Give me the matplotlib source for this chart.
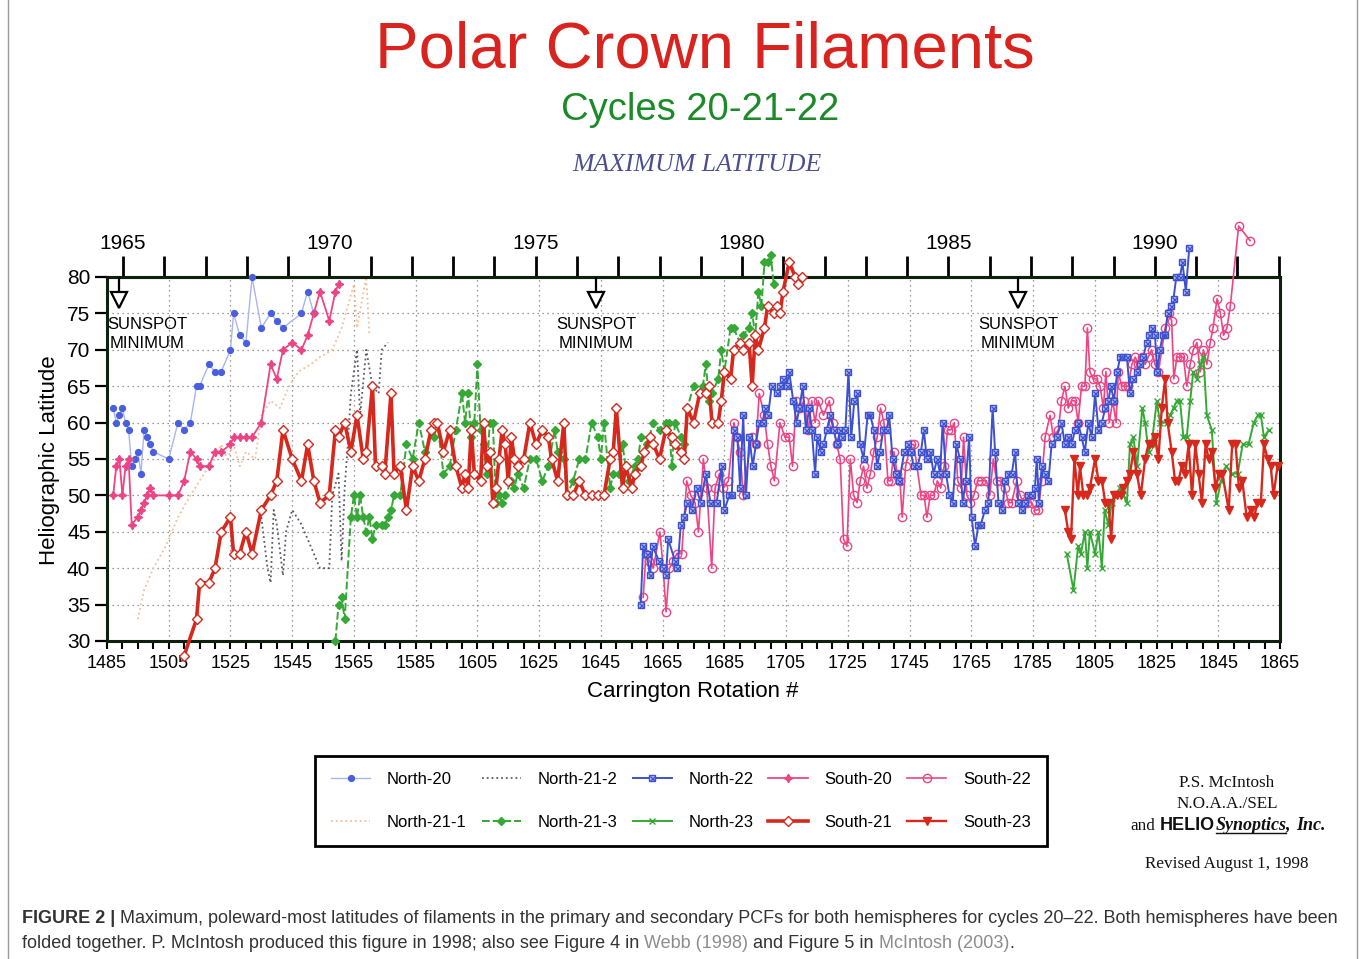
import matplotlib
matplotlib.use('Agg')
import matplotlib.pyplot as plt
from matplotlib.lines import Line2D
from matplotlib.ticker import MultipleLocator, FixedLocator

plt.rcParams['font.family'] = ['Liberation Sans', 'DejaVu Sans']

# ---------------- data (Carrington rotation, latitude) ----------------
n20_cr = [1487, 1488, 1489, 1490, 1491, 1492, 1493, 1494, 1495, 1496, 1497, 1498, 1499, 1500,
          1505, 1508, 1510, 1512, 1514, 1515, 1518, 1520, 1522, 1525, 1526, 1528, 1530, 1532,
          1535, 1538, 1540, 1542, 1548, 1550, 1552]
n20_lat = [62, 60, 61, 62, 60, 59, 54, 55, 56, 53, 59, 58, 57, 56,
           55, 60, 59, 60, 65, 65, 68, 67, 67, 70, 75, 72, 71, 80,
           73, 75, 74, 73, 75, 78, 75]

s20_cr = [1487, 1488, 1489, 1490, 1491, 1492, 1493, 1495, 1496, 1497, 1498, 1499, 1500,
          1505, 1508, 1510, 1512, 1514, 1515, 1518, 1520, 1522, 1525, 1526, 1528, 1530, 1532, 1535,
          1538, 1540, 1542, 1545, 1548, 1550, 1552, 1554, 1557, 1559, 1560]
s20_lat = [50, 54, 55, 50, 54, 55, 46, 47, 48, 49, 50, 51, 50,
           50, 50, 52, 56, 55, 54, 54, 56, 56, 57, 58, 58, 58, 58, 60,
           68, 66, 70, 71, 70, 72, 75, 78, 74, 78, 79]

n211_cr = [1495, 1497, 1500, 1504, 1508, 1512, 1515, 1518, 1520, 1522, 1524, 1526, 1528, 1530,
           1533, 1535, 1538, 1541, 1544, 1547, 1551, 1554, 1558, 1561, 1563, 1565, 1566, 1569, 1570]
n211_lat = [33, 37, 40, 43, 47, 50, 52, 54, 55, 57, 55, 57, 54, 56,
            55, 61, 63, 62, 65, 67, 68, 69, 70, 73, 76, 79, 73, 80, 72]

n212_cr = [1535, 1537, 1538, 1539, 1540, 1542, 1543, 1545, 1548, 1551, 1554, 1557, 1558,
           1560, 1561, 1562, 1563, 1564, 1566, 1567, 1569, 1571, 1573, 1574, 1576]
n212_lat = [47, 40, 38, 48, 46, 39, 45, 48, 46, 43, 40, 40, 50,
            53, 41, 51, 57, 64, 70, 61, 70, 65, 64, 70, 71]

n213_cr = [1559, 1560, 1561, 1562, 1564, 1565, 1566, 1567, 1568, 1569,
           1570, 1571, 1572, 1574, 1575, 1576, 1577, 1578, 1580, 1582,
           1584, 1586, 1588, 1590, 1591, 1592, 1594, 1596, 1598, 1600,
           1601, 1602, 1603, 1604, 1605, 1606, 1607, 1608, 1609, 1610,
           1611, 1612, 1613, 1614, 1616, 1617, 1618, 1620, 1622, 1624,
           1626, 1628, 1630, 1631, 1633, 1634, 1636, 1638, 1640, 1642,
           1644, 1645, 1646, 1648, 1649, 1651, 1652, 1653, 1654, 1656,
           1657, 1658, 1660, 1662, 1664, 1666, 1667, 1668, 1669, 1671,
           1672, 1673, 1675, 1677, 1678, 1679, 1680, 1681, 1683, 1684,
           1685, 1687, 1688, 1690, 1691, 1693, 1694, 1695, 1696, 1697,
           1698, 1699, 1700, 1701]
n213_lat = [30, 35, 36, 33, 47, 50, 47, 50, 47, 45,
            47, 44, 46, 46, 46, 47, 48, 50, 50, 57,
            55, 60, 56, 59, 58, 60, 53, 54, 59, 64,
            60, 64, 58, 60, 68, 59, 57, 53, 60, 60,
            49, 50, 49, 50, 52, 51, 53, 51, 55, 55,
            52, 54, 59, 56, 55, 50, 52, 55, 55, 60,
            58, 55, 60, 51, 53, 53, 57, 54, 52, 54,
            55, 58, 57, 60, 59, 60, 60, 54, 60, 58,
            57, 62, 65, 64, 65, 68, 63, 64, 66, 70,
            67, 73, 73, 71, 72, 73, 75, 72, 78, 76,
            82, 82, 83, 79]

s21_cr = [1510, 1514, 1515, 1518, 1520, 1522, 1525, 1526, 1528, 1530,
          1532, 1535, 1538, 1540, 1542, 1545, 1548, 1550, 1552, 1554,
          1557, 1559, 1560, 1562, 1564, 1566, 1568, 1569, 1571, 1572,
          1574, 1575, 1577, 1578, 1580, 1582, 1584, 1586, 1588, 1590,
          1591, 1592, 1594, 1596, 1598, 1600, 1601, 1602, 1603, 1604,
          1606, 1607, 1608, 1609, 1610, 1611, 1612, 1613, 1614, 1615,
          1616, 1617, 1618, 1620, 1622, 1624, 1626, 1628, 1629, 1631,
          1633, 1634, 1636, 1638, 1640, 1642, 1644, 1646, 1648, 1649,
          1650, 1652, 1653, 1655, 1656, 1658, 1659, 1661, 1662, 1664,
          1666, 1668, 1669, 1671, 1672, 1673, 1675, 1677, 1679, 1680,
          1681, 1683, 1684, 1685, 1687, 1688, 1690, 1691, 1693, 1694,
          1695, 1696, 1698, 1699, 1701, 1702, 1703, 1704, 1706, 1708,
          1709, 1710]
s21_lat = [28, 33, 38, 38, 40, 45, 47, 42, 42, 45,
           42, 48, 50, 52, 59, 55, 52, 57, 52, 49,
           50, 59, 58, 60, 56, 61, 55, 56, 65, 54,
           54, 53, 64, 53, 54, 48, 54, 52, 55, 59,
           60, 60, 56, 59, 54, 51, 53, 51, 59, 53,
           52, 60, 54, 56, 49, 51, 55, 59, 57, 52,
           58, 55, 54, 55, 60, 57, 59, 58, 55, 52,
           60, 50, 50, 52, 50, 50, 50, 50, 55, 56,
           62, 51, 54, 51, 53, 54, 56, 58, 57, 55,
           59, 58, 57, 56, 55, 62, 60, 64, 64, 65,
           60, 60, 63, 67, 66, 70, 71, 70, 71, 65,
           72, 70, 73, 76, 75, 76, 75, 78, 82, 80,
           79, 80]

n22_cr = [1657.9, 1658.7, 1659.8, 1660.9, 1661.8, 1663.8, 1665.2, 1666.1, 1666.8, 1669.0,
          1669.8, 1670.9, 1671.9, 1673.0, 1674.4, 1676.0, 1677.3, 1679.0, 1680.5, 1682.5,
          1684.1, 1685.0, 1686.6, 1687.4, 1688.1, 1689.2, 1690.1, 1691.1, 1692.0, 1693.1,
          1694.2, 1695.2, 1696.3, 1697.4, 1698.2, 1699.2, 1700.3, 1701.9, 1703.0, 1704.1,
          1705.2, 1706.0, 1707.3, 1708.4, 1709.3, 1710.4, 1711.4, 1712.5, 1713.3, 1714.4,
          1715.1, 1716.2, 1717.1, 1718.2, 1719.3, 1720.4, 1721.5, 1722.5, 1723.1, 1724.2,
          1725.2, 1726.1, 1727.1, 1728.1, 1729.0, 1730.1, 1731.4, 1732.3, 1733.4, 1734.5,
          1735.4, 1736.5, 1737.6, 1738.4, 1739.5, 1740.6, 1741.7, 1743.3, 1744.4, 1745.4,
          1746.3, 1747.6, 1748.7, 1749.6, 1750.6, 1751.7, 1752.8, 1753.9, 1754.9, 1755.7,
          1756.8, 1757.9, 1759.0, 1760.2, 1761.3, 1762.2, 1763.2, 1764.3, 1765.1, 1766.2,
          1767.3, 1768.1, 1769.4, 1770.5, 1771.9, 1772.7, 1773.8, 1775.1, 1775.9, 1777.0,
          1778.1, 1779.2, 1780.2, 1781.3, 1782.4, 1783.5, 1784.5, 1785.6, 1786.2, 1786.9,
          1787.8, 1788.9, 1790.0, 1791.0, 1792.6, 1794.2, 1795.3, 1796.4, 1797.5, 1798.6,
          1799.6, 1800.7, 1801.8, 1802.9, 1804.0, 1805.1, 1806.2, 1807.3, 1808.4, 1809.4,
          1810.2, 1811.2, 1812.3, 1813.2, 1814.3, 1815.4, 1816.4, 1817.5, 1818.6, 1819.6,
          1820.7, 1821.8, 1822.6, 1823.4, 1824.5, 1825.2, 1826.1, 1827.0, 1827.8, 1828.6,
          1829.6, 1830.5, 1831.4, 1832.6, 1833.4, 1834.5, 1835.6]
n22_lat = [35, 43, 42, 39, 43, 41, 40, 39, 44, 41,
           40, 46, 47, 49, 48, 51, 49, 53, 49, 49,
           54, 48, 50, 50, 59, 58, 51, 61, 50, 58,
           54, 57, 60, 60, 62, 61, 65, 64, 65, 66,
           65, 67, 63, 60, 62, 65, 59, 62, 59, 53,
           58, 56, 57, 59, 61, 59, 57, 59, 58, 59,
           67, 58, 63, 64, 57, 55, 61, 61, 59, 54,
           56, 59, 59, 61, 55, 53, 52, 56, 57, 56,
           54, 54, 56, 59, 55, 56, 53, 55, 53, 60,
           53, 50, 49, 57, 55, 49, 52, 58, 47, 43,
           46, 46, 48, 49, 62, 56, 49, 48, 52, 53,
           53, 56, 49, 48, 49, 50, 50, 51, 55, 49,
           54, 53, 52, 57, 58, 60, 57, 58, 57, 59,
           60, 58, 56, 60, 58, 64, 59, 60, 62, 63,
           65, 63, 67, 69, 69, 69, 64, 66, 67, 68,
           69, 71, 72, 73, 72, 67, 70, 72, 72, 75,
           76, 77, 80, 80, 82, 78, 84]

s22_cr = [1658.7, 1659.6, 1660.7, 1662.0, 1664.1, 1665.2, 1666.1, 1667.2, 1668.5, 1669.6,
          1671.2, 1672.8, 1674.1, 1675.5, 1676.6, 1678.2, 1679.3, 1680.9, 1682.0, 1683.4,
          1684.7, 1686.3, 1688.1, 1689.0, 1690.1, 1691.1, 1693.8, 1695.2, 1696.3, 1697.9,
          1699.0, 1700.1, 1701.2, 1703.0, 1704.6, 1706.0, 1707.1, 1708.2, 1709.5, 1710.8,
          1712.2, 1713.3, 1714.4, 1715.4, 1717.1, 1719.0, 1720.1, 1721.4, 1722.5, 1723.6,
          1724.7, 1725.8, 1726.9, 1728.0, 1729.0, 1730.1, 1731.2, 1732.3, 1733.4, 1734.5,
          1735.6, 1736.7, 1738.0, 1738.9, 1739.9, 1741.0, 1741.9, 1742.6, 1743.7, 1745.4,
          1746.4, 1748.7, 1749.7, 1750.6, 1751.7, 1752.8, 1754.0, 1755.1, 1756.2, 1757.3,
          1758.4, 1759.5, 1760.6, 1761.7, 1762.5, 1763.6, 1764.7, 1765.8, 1767.1, 1768.1,
          1769.9, 1771.0, 1772.1, 1773.2, 1774.3, 1775.9, 1777.0, 1778.1, 1779.7, 1780.8,
          1781.9, 1783.0, 1784.6, 1785.6, 1786.7, 1787.8, 1788.9, 1790.5, 1791.6, 1793.2,
          1794.2, 1795.3, 1796.4, 1797.5, 1798.6, 1799.6, 1800.7, 1801.8, 1802.6, 1803.4,
          1804.5, 1805.6, 1806.7, 1807.8, 1808.6, 1809.7, 1810.8, 1811.9, 1812.6, 1813.7,
          1814.8, 1815.9, 1817.0, 1818.1, 1819.1, 1820.2, 1821.3, 1822.3, 1823.4, 1824.5,
          1825.6, 1827.8, 1828.9, 1829.9, 1830.6, 1831.6, 1832.6, 1833.7, 1834.8, 1835.9,
          1836.9, 1838.1, 1839.2, 1840.2, 1841.3, 1842.4, 1843.3, 1844.6, 1845.7, 1846.7,
          1847.8, 1848.9, 1851.6, 1855.3]
s22_lat = [36, 42, 41, 40, 45, 40, 34, 40, 41, 42,
           42, 52, 50, 49, 45, 55, 51, 40, 51, 53,
           51, 52, 60, 58, 56, 50, 58, 57, 64, 61,
           57, 54, 52, 60, 58, 58, 54, 63, 62, 63,
           59, 63, 60, 63, 61, 63, 60, 57, 55, 44,
           43, 55, 50, 49, 52, 54, 51, 53, 56, 58,
           62, 60, 52, 52, 56, 53, 52, 47, 54, 57,
           57, 50, 50, 47, 50, 50, 52, 51, 54, 59,
           59, 60, 52, 51, 58, 50, 49, 50, 52, 52,
           52, 50, 55, 52, 52, 51, 49, 49, 52, 50,
           49, 49, 49, 48, 48, 52, 58, 61, 58, 59,
           63, 65, 62, 63, 63, 60, 65, 65, 73, 67,
           66, 66, 65, 62, 67, 60, 63, 60, 67, 65,
           65, 65, 68, 69, 68, 69, 68, 69, 70, 68,
           67, 73, 75, 74, 66, 69, 69, 69, 65, 68,
           70, 71, 67, 70, 68, 71, 73, 77, 75, 72,
           73, 76, 87, 85]

n23_cr = [1795.9, 1798.1, 1799.6, 1800.5, 1801.8, 1802.6, 1803.4, 1805.1, 1806.2, 1807.3,
          1808.2, 1809.4, 1810.5, 1811.6, 1813.1, 1814.3, 1815.4, 1816.4, 1817.5, 1818.7,
          1820.4, 1821.3, 1822.4, 1823.4, 1825.1, 1826.1, 1828.3, 1829.4, 1830.5, 1831.6,
          1832.6, 1833.7, 1834.8, 1835.9, 1836.9, 1838.1, 1839.2, 1840.2, 1841.3, 1842.9,
          1844.4, 1845.9, 1847.5, 1849.5, 1851.3, 1852.9, 1854.8, 1856.5, 1857.8, 1858.8,
          1859.8, 1861.4]
n23_lat = [42, 37, 43, 42, 45, 40, 45, 42, 45, 40,
           48, 46, 49, 50, 51, 50, 49, 57, 58, 54,
           62, 60, 56, 57, 63, 60, 60, 61, 62, 63,
           63, 58, 58, 63, 67, 66, 68, 69, 61, 59,
           49, 52, 54, 53, 53, 57, 57, 60, 61, 61,
           58, 59]

s23_cr = [1795.3, 1796.4, 1797.3, 1798.4, 1799.5, 1800.2, 1801.3, 1802.4, 1803.4, 1805.1,
          1806.2, 1807.3, 1808.4, 1809.4, 1810.3, 1811.2, 1812.3, 1813.4, 1814.3, 1815.4,
          1816.4, 1817.5, 1818.6, 1819.9, 1821.3, 1822.4, 1823.4, 1824.5, 1825.6, 1826.7,
          1827.8, 1828.6, 1829.9, 1831.0, 1832.1, 1833.2, 1834.3, 1835.4, 1836.5, 1837.6,
          1838.6, 1839.7, 1840.9, 1841.9, 1843.0, 1844.1, 1845.2, 1846.3, 1848.4, 1849.5,
          1850.6, 1851.7, 1852.8, 1854.2, 1855.5, 1856.6, 1857.7, 1858.8, 1859.8, 1861.0,
          1862.0, 1862.9, 1864.2]
s23_lat = [48, 45, 44, 55, 50, 54, 50, 50, 51, 55,
           52, 52, 49, 49, 44, 50, 50, 50, 51, 52,
           53, 56, 53, 50, 55, 57, 57, 58, 55, 62,
           66, 60, 56, 52, 52, 54, 53, 57, 50, 57,
           53, 49, 57, 55, 56, 51, 53, 53, 48, 57,
           57, 51, 52, 47, 48, 47, 49, 49, 57, 55,
           54, 50, 54]

sunspot_min_cr = [1489, 1643.4, 1780.1]
sunspot_text_cr = [1498, 1643.4, 1780.1]
year_labels = [1965, 1970, 1975, 1980, 1985, 1990]
year_ticks = list(range(1965, 1994))
cr_ticks = list(range(1485, 1866, 20))

# ---------------- figure ----------------
W, H = 1360, 959
fig = plt.figure(figsize=(W / 100, H / 100), dpi=100)
fig.patch.set_facecolor('white')
ax = fig.add_axes([107 / W, 1 - 641 / H, (1280 - 107) / W, (641 - 277) / H])
ax.set_xlim(1485, 1865)
ax.set_ylim(30, 80)

C_BLUE = '#3d50d0'
C_PINK = '#ec4585'
C_RED = '#d6281c'
C_GREEN = '#35a835'

h_n211, = ax.plot(n211_cr, n211_lat, ls=':', color='#f3bf96', lw=1.3, zorder=2, clip_on=False)
h_n212, = ax.plot(n212_cr, n212_lat, ls=':', color='#5a5a66', lw=1.3, zorder=2, clip_on=False)
h_n20, = ax.plot(n20_cr, n20_lat, color='#a9b5ee', lw=1.0, marker='o', ms=4.2,
                 mfc='#4a5ee0', mec='#4a5ee0', zorder=3, clip_on=False)
h_s20, = ax.plot(s20_cr, s20_lat, color=C_PINK, lw=1.3, marker=(4, 1, 0), ms=6,
                 mfc=C_PINK, mec=C_PINK, zorder=3, clip_on=False)
h_n213, = ax.plot(n213_cr, n213_lat, color=C_GREEN, lw=1.4, ls=(0, (4, 1.5)), marker='D', ms=3.6,
                  mfc=C_GREEN, mec=C_GREEN, zorder=4, clip_on=False)
h_s21, = ax.plot(s21_cr, s21_lat, color=C_RED, lw=2.6, marker='D', ms=5, mfc='white',
                 mec=C_RED, mew=1.0, zorder=5, clip_on=False)
h_s22, = ax.plot(s22_cr, s22_lat, color=C_PINK, lw=1.2, marker='o', ms=6, mfc='none',
                 mec=C_PINK, mew=1.0, zorder=4, clip_on=False)
h_n22a, = ax.plot(n22_cr, n22_lat, color=C_BLUE, lw=1.4, marker='s', ms=5, mfc='#c4cbf4',
                  mec=C_BLUE, mew=1.0, zorder=5, clip_on=False)
h_n22b, = ax.plot(n22_cr, n22_lat, ls='none', marker='x', ms=3.6, mec=C_BLUE, mew=1.0,
                  zorder=6, clip_on=False)
h_n23, = ax.plot(n23_cr, n23_lat, color=C_GREEN, lw=1.4, marker='x', ms=4, mew=1.0,
                 zorder=5, clip_on=False)
h_s23, = ax.plot(s23_cr, s23_lat, color=C_RED, lw=1.7, marker='v', ms=5.5, mfc=C_RED,
                 mec=C_RED, zorder=6, clip_on=False)

# grid / spines / ticks
ax.set_axisbelow(True)
ax.xaxis.set_major_locator(FixedLocator(cr_ticks))
ax.xaxis.set_minor_locator(MultipleLocator(5))
ax.yaxis.set_major_locator(MultipleLocator(5))
ax.grid(True, which='major', ls=(0, (1, 3)), color='#7a7a7a', lw=0.9)
for sp in ax.spines.values():
    sp.set_linewidth(2.2)
    sp.set_color('#10200f')
ax.tick_params(axis='x', which='both', direction='out', length=6, width=1.5,
               labelsize=13, pad=4, top=False)
ax.tick_params(axis='y', which='major', direction='out', length=9, width=1.6,
               labelsize=15, pad=3, right=False)


def cr2yr(c):
    return 1965 + (c - 1490.2) / 13.37


def yr2cr(y):
    return 1490.2 + (y - 1965) * 13.37


sec = ax.secondary_xaxis('top', functions=(cr2yr, yr2cr))
sec.set_xticks(year_labels)
sec.xaxis.set_minor_locator(FixedLocator(year_ticks))
sec.tick_params(which='both', direction='out', length=15, width=2.0, labelsize=15, pad=2)
sec.spines['top'].set_linewidth(2.2)

# sunspot minimum arrows
for c, tc in zip(sunspot_min_cr, sunspot_text_cr):
    ax.plot([c, c], [80, 77.9], color='k', lw=1.6, zorder=7)
    ax.plot([c], [76.8], marker='v', ms=12, mfc='white', mec='k', mew=1.6, zorder=7)
    ax.text(tc, 74.5, 'SUNSPOT\nMINIMUM', ha='center', va='top', fontsize=12,
            linespacing=1.3, zorder=8)

# titles
fig.text(705 / W, 1 - 50 / H, 'Polar Crown Filaments', ha='center', va='center',
         fontsize=47, color='#d9231f')
fig.text(700 / W, 1 - 110 / H, 'Cycles 20-21-22', ha='center', va='center',
         fontsize=27.5, color='#1d8a2a')
fig.text(697 / W, 1 - 165 / H, 'MAXIMUM LATITUDE', ha='center', va='center',
         fontsize=18.5, color='#4a4f92', family='Liberation Serif', style='italic')
fig.text(50 / W, 1 - 460 / H, 'Heliographic Latitude', ha='center', va='center',
         rotation=90, fontsize=16)
fig.text(693 / W, 1 - 692 / H, 'Carrington Rotation #', ha='center', va='center', fontsize=16)

# legend
handles = [h_n20, h_n211, h_n212, h_n213, (h_n22a, h_n22b), h_n23, h_s20, h_s21, h_s22, h_s23]
labels = ['North-20', 'North-21-1', 'North-21-2', 'North-21-3', 'North-22', 'North-23',
          'South-20', 'South-21', 'South-22', 'South-23']
leg = fig.legend(handles, labels, ncol=5, loc='center', bbox_to_anchor=(681 / W, 1 - 801 / H),
                 fontsize=12, frameon=True, fancybox=False, edgecolor='black', framealpha=1,
                 handlelength=2.35, handletextpad=1.0, columnspacing=0.9, labelspacing=1.65,
                 borderpad=0.95, numpoints=1)
leg.get_frame().set_linewidth(2.0)

# right-side credit block
renderer = fig.canvas.get_renderer()


def text_width(s, **kw):
    t = fig.text(0, 0, s, **kw)
    w = t.get_window_extent(renderer=renderer).width
    t.remove()
    return w


def space_w(**kw):
    return text_width('a a', **kw) - text_width('aa', **kw)


def draw_runs(runs, x_px, y_px, center=False):
    widths = [text_width(s, **kw) for s, kw, g in runs]
    total = sum(widths) + sum(g for _, _, g in runs[:-1])
    if center:
        x_px -= total / 2
    x = x_px
    out = []
    for (s, kw, g), w in zip(runs, widths):
        fig.text(x / W, 1 - y_px / H, s, ha='left', va='baseline', **kw)
        out.append((x, w))
        x += w + g
    return out


serif = dict(family='Liberation Serif', fontsize=12.3, color='#111111')
fig.text(1227 / W, 1 - 787 / H, 'P.S. McIntosh', ha='center', va='baseline', **serif)
fig.text(1227 / W, 1 - 808 / H, 'N.O.A.A./SEL', ha='center', va='baseline', **serif)
fig.text(1227 / W, 1 - 868 / H, 'Revised August 1, 1998', ha='center', va='baseline', **serif)
kw_helio = dict(family='Liberation Sans', fontsize=13, weight='bold', color='#111111')
kw_syn = dict(family='Liberation Serif', fontsize=13, weight='bold', style='italic', color='#111111')
pos = draw_runs([('and', serif, space_w(**serif)),
                 ('HELIO', kw_helio, 1),
                 ('Synoptics,', kw_syn, space_w(**kw_syn)),
                 ('Inc.', kw_syn, 0)], 1228, 830, center=True)
sx, swd = pos[2]
fig.add_artist(Line2D([sx / W, (sx + swd - 5) / W], [1 - 833 / H, 1 - 833 / H],
                      color='#111111', lw=1.0, transform=fig.transFigure))

# caption
cap_kw = dict(family='Liberation Sans', color='#333333')
line1_a = 'FIGURE 2 |'
line1_b = ('Maximum, poleward-most latitudes of filaments in the primary and secondary PCFs '
           'for both hemispheres for cycles 20\u201322. Both hemispheres have been')
fs0 = 12
w_try = (text_width(line1_a, fontsize=fs0, weight='bold', **cap_kw) +
         space_w(fontsize=fs0, **cap_kw) + text_width(line1_b, fontsize=fs0, **cap_kw))
fs = fs0 * 1319 / w_try
kb = dict(fontsize=fs, weight='bold', **cap_kw)
kn = dict(fontsize=fs, **cap_kw)
kg = dict(fontsize=fs, family='Liberation Sans', color='#8c8c8c')
sp = space_w(**kn)
draw_runs([(line1_a, kb, sp), (line1_b, kn, 0)], 22, 923)
draw_runs([('folded together. P. McIntosh produced this figure in 1998; also see Figure 4 in', kn, sp),
           ('Webb (1998)', kg, sp),
           ('and Figure 5 in', kn, sp),
           ('McIntosh (2003)', kg, 0),
           ('.', kn, 0)], 22, 948)

# page border
for xx in (8, 1357):
    fig.add_artist(Line2D([xx / W, xx / W], [0, 1], color='#9a9a9a', lw=1.0,
                          transform=fig.transFigure))

fig.savefig('out.png', dpi=100, facecolor='white')
